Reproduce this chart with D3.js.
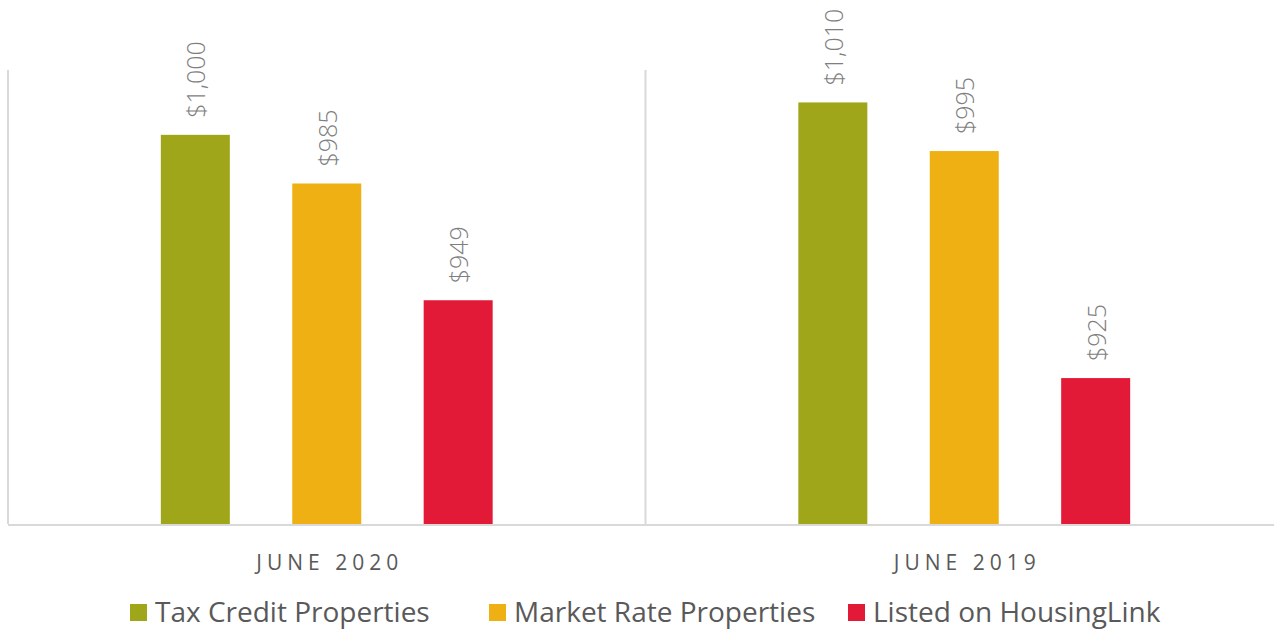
<!DOCTYPE html>
<html>
<head>
<meta charset="utf-8">
<script src="https://cdn.jsdelivr.net/npm/d3@7"></script>
<style>
  body { margin: 0; background: #fff; }
  svg { display: block; font-family: "Open Sans", "Noto Sans", sans-serif; }
</style>
</head>
<body>
<svg id="chart" width="1274" height="631"></svg>
<script>
const periods = ["JUNE 2020", "JUNE 2019"];
const series = ["Tax Credit Properties", "Market Rate Properties", "Listed on HousingLink"];
const taxCredit = [1000, 1010];
const marketRate = [985, 995];
const housingLink = [949, 925];
const colors = ["#A0A61A", "#EEB012", "#E31A37"];

const values = [taxCredit, marketRate, housingLink];
const rows = periods.map((p, i) => ({ period: p, vals: series.map((s, j) => ({ key: s, value: values[j][i], idx: j })) }));

const svg = d3.select("#chart");
const plotLeft = 8, plotRight = 1283, plotTop = 70, plotBottom = 524;

const x0 = d3.scaleBand().domain(periods).range([plotLeft, plotRight]);
const x1 = d3.scaleBand().domain(series).range([0, x0.bandwidth()]).paddingInner(0.475).paddingOuter(1.163);
const y = d3.scaleLinear().domain([880, 1020]).range([plotBottom, plotTop]);

// frame lines
svg.append("g").selectAll("line")
  .data([plotLeft, plotLeft + x0.bandwidth()])
  .join("line")
  .attr("x1", d => d).attr("x2", d => d)
  .attr("y1", plotTop).attr("y2", plotBottom)
  .attr("stroke", "#d9d9d9").attr("stroke-width", 2);

const groups = svg.append("g").selectAll("g")
  .data(rows)
  .join("g")
  .attr("transform", d => `translate(${x0(d.period)},0)`);

groups.selectAll("rect")
  .data(d => d.vals)
  .join("rect")
  .attr("x", d => x1(d.key))
  .attr("width", x1.bandwidth())
  .attr("y", d => y(d.value))
  .attr("height", d => plotBottom - y(d.value))
  .attr("fill", d => colors[d.idx]);

groups.selectAll("text.val")
  .data(d => d.vals)
  .join("text")
  .attr("class", "val")
  .attr("transform", d => `translate(${x1(d.key) + x1.bandwidth() / 2 + 10},${y(d.value) - 17}) rotate(-90)`)
  .attr("font-size", 25)
  .attr("font-weight", 300)
  .attr("fill", "#7f7f7f")
  .text(d => "$" + d3.format(",")(d.value));

svg.append("line")
  .attr("x1", plotLeft).attr("x2", plotRight)
  .attr("y1", plotBottom + 1).attr("y2", plotBottom + 1)
  .attr("stroke", "#d9d9d9").attr("stroke-width", 2);

svg.append("g").selectAll("text")
  .data(periods)
  .join("text")
  .attr("x", d => x0(d) + x0.bandwidth() / 2 + 3)
  .attr("y", 570)
  .attr("text-anchor", "middle")
  .attr("font-size", 21)
  .attr("letter-spacing", 5)
  .attr("fill", "#595959")
  .text(d => d);

// legend
const legendX = [130, 489, 848];
const legend = svg.append("g").selectAll("g")
  .data(series)
  .join("g")
  .attr("transform", (d, i) => `translate(${legendX[i]},612)`);
legend.append("rect")
  .attr("x", 0).attr("y", -8).attr("width", 17).attr("height", 17)
  .attr("fill", (d, i) => colors[i]);
legend.append("text")
  .attr("x", 25).attr("y", 10)
  .attr("font-size", 28)
  .attr("fill", "#595959")
  .text(d => d);
</script>
</body>
</html>
